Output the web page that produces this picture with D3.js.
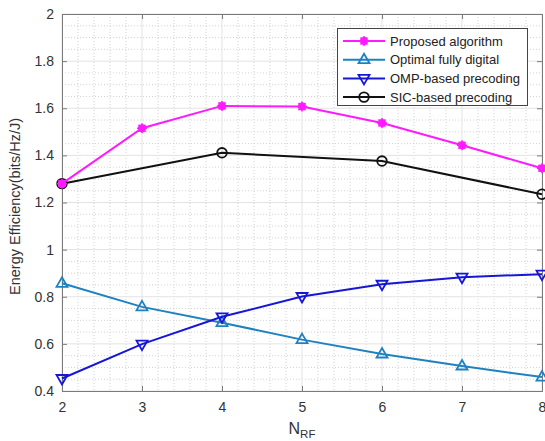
<!DOCTYPE html>
<html><head><meta charset="utf-8">
<script src="https://cdn.jsdelivr.net/npm/d3@7"></script>
<style>body{margin:0;background:#fff;}svg{display:block;font-family:"Liberation Sans",Arial,sans-serif;}</style>
</head><body>
<svg id="c" width="545" height="441"></svg>
<script>
const nrf = [2,3,4,5,6,7,8];
const proposed = [1.28,1.515,1.61,1.607,1.537,1.443,1.345];
const optimal = [0.857,0.757,0.69,0.618,0.557,0.506,0.459];
const omp = [0.453,0.599,0.715,0.801,0.853,0.883,0.896];
const sicX = [2,4,6,8];
const sic = [1.28,1.411,1.376,1.235];
const yTicks = [0.4,0.6,0.8,1,1.2,1.4,1.6,1.8,2];
const xTicks = [2,3,4,5,6,7,8];
const names = ["Proposed algorithm","Optimal fully digital","OMP-based precoding","SIC-based precoding"];

const W=545,H=441,m={l:62,r:3,t:14,b:50};
const svg=d3.select("#c");
const x=d3.scaleLinear().domain([2,8]).range([m.l,W-m.r]);
const y=d3.scaleLinear().domain([0.4,2]).range([H-m.b,m.t]);
const g=svg.append("g");
// minor grid
const xMinor=d3.range(2,8.001,0.2).filter(v=>Math.abs(v-Math.round(v))>1e-6);
const yMinor=d3.range(0.4,2.001,0.05).filter(v=>Math.abs(v*5-Math.round(v*5))>1e-6);
g.selectAll(".xm").data(xMinor).join("line").attr("x1",d=>x(d)).attr("x2",d=>x(d)).attr("y1",m.t).attr("y2",H-m.b)
 .attr("stroke","#d2d2d2").attr("stroke-width",1).attr("stroke-dasharray","1,2");
g.selectAll(".ym").data(yMinor).join("line").attr("y1",d=>y(d)).attr("y2",d=>y(d)).attr("x1",m.l).attr("x2",W-m.r)
 .attr("stroke","#d2d2d2").attr("stroke-width",1).attr("stroke-dasharray","1,2");
// major grid
g.selectAll(".xg").data(xTicks).join("line").attr("x1",d=>x(d)).attr("x2",d=>x(d)).attr("y1",m.t).attr("y2",H-m.b)
 .attr("stroke","#e3e3e3").attr("stroke-width",1);
g.selectAll(".yg").data(yTicks).join("line").attr("y1",d=>y(d)).attr("y2",d=>y(d)).attr("x1",m.l).attr("x2",W-m.r)
 .attr("stroke","#e3e3e3").attr("stroke-width",1);

// axes
const axCol="#7a7a7a";
const xa=svg.append("g").attr("transform",`translate(0,${H-m.b})`).call(d3.axisBottom(x).tickValues(xTicks).tickSize(-5).tickPadding(11).tickFormat(d3.format("d")));
const xa2=svg.append("g").attr("transform",`translate(0,${m.t})`).call(d3.axisTop(x).tickValues(xTicks).tickSize(-5).tickFormat(""));
const ya=svg.append("g").attr("transform",`translate(${m.l},0)`).call(d3.axisLeft(y).tickValues(yTicks).tickSize(-5).tickPadding(8).tickFormat(d=>d3.format("")(+d.toFixed(1))));
const ya2=svg.append("g").attr("transform",`translate(${W-m.r},0)`).call(d3.axisRight(y).tickValues(yTicks).tickSize(-5).tickFormat(""));
[xa,xa2,ya,ya2].forEach(a=>{a.selectAll("path,line").attr("stroke",axCol);a.selectAll("text").attr("fill","#333").attr("font-size","14px").attr("font-family","Liberation Sans, Arial, sans-serif");});

// labels
svg.append("text").attr("transform",`translate(20,${(m.t+H-m.b)/2+4}) rotate(-90)`).attr("text-anchor","middle")
 .attr("font-size","14.5px").attr("fill","#333").text("Energy Efficiency(bits/Hz/J)");
const xl=svg.append("text").attr("x",(m.l+W-m.r)/2).attr("y",434).attr("text-anchor","middle").attr("font-size","16px").attr("fill","#333");
xl.append("tspan").text("N");
xl.append("tspan").attr("font-size","11.5px").attr("dy",4).text("RF");

// series
const line=d3.line().x(d=>x(d[0])).y(d=>y(d[1]));
const series=[
 {n:names[1],c:"#1f82c0",pts:nrf.map((v,i)=>[v,optimal[i]]),mk:"tri"},
 {n:names[2],c:"#1616d6",pts:nrf.map((v,i)=>[v,omp[i]]),mk:"itri"},
 {n:names[3],c:"#111",pts:sicX.map((v,i)=>[v,sic[i]]),mk:"circ"},
 {n:names[0],c:"#ff1aff",pts:nrf.map((v,i)=>[v,proposed[i]]),mk:"star"}
];
function marker(sel,type,c,cx,cy){
 if(type==="tri"){sel.append("path").attr("d",`M${cx},${cy-6}L${cx+5.5},${cy+3.5}L${cx-5.5},${cy+3.5}Z`).attr("fill","none").attr("stroke",c).attr("stroke-width",1.8);}
 else if(type==="itri"){sel.append("path").attr("d",`M${cx},${cy+6}L${cx+5.5},${cy-3.5}L${cx-5.5},${cy-3.5}Z`).attr("fill","none").attr("stroke",c).attr("stroke-width",1.8);}
 else if(type==="circ"){sel.append("circle").attr("cx",cx).attr("cy",cy).attr("r",4.8).attr("fill","none").attr("stroke",c).attr("stroke-width",1.8);}
 else {sel.append("circle").attr("cx",cx).attr("cy",cy).attr("r",4).attr("fill",c);
   sel.append("path").attr("d",`M${cx-5},${cy}L${cx+5},${cy}M${cx},${cy-5}L${cx},${cy+5}M${cx-3.5},${cy-3.5}L${cx+3.5},${cy+3.5}M${cx-3.5},${cy+3.5}L${cx+3.5},${cy-3.5}`).attr("stroke",c).attr("stroke-width",1.5);}
}
series.forEach(s=>{
 const gs=svg.append("g");
 gs.append("path").datum(s.pts).attr("d",line).attr("fill","none").attr("stroke",s.c).attr("stroke-width",2);
 s.pts.forEach(p=>marker(gs,s.mk,s.c,x(p[0]),y(p[1])));
});

// legend
const lg=svg.append("g");
lg.append("rect").attr("x",337.5).attr("y",28.5).attr("width",190).attr("height",77).attr("fill","#fff").attr("stroke","#444").attr("stroke-width",1);
const order=[series[3],series[0],series[1],series[2]];
order.forEach((s,i)=>{
 const yy=41+i*18.7;
 lg.append("line").attr("x1",343).attr("x2",385).attr("y1",yy).attr("y2",yy).attr("stroke",s.c).attr("stroke-width",2);
 marker(lg,s.mk,s.c,364,yy);
 lg.append("text").attr("x",390).attr("y",yy).attr("dy","0.35em").attr("font-size","13px").attr("fill","#222").text(s.n);
});
</script>
</body></html>
